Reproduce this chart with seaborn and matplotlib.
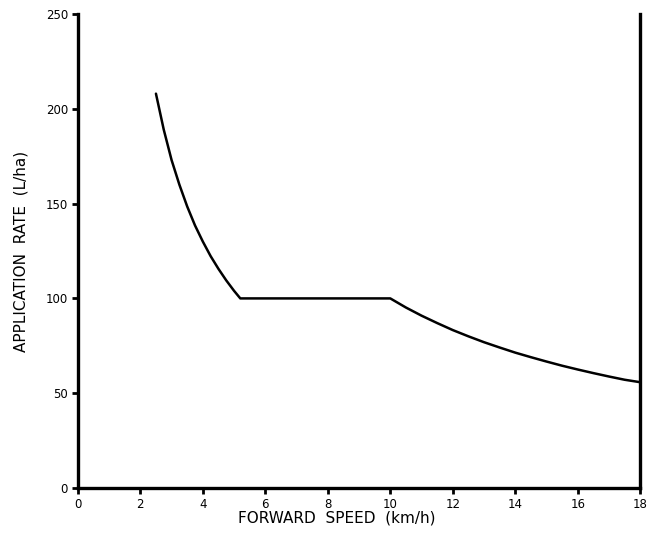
import matplotlib
matplotlib.use("Agg")
import matplotlib.pyplot as plt
import seaborn as sns
import pandas as pd

# Data
speed_low = [2.5, 2.75, 3.0, 3.25, 3.5, 3.75, 4.0, 4.25, 4.5, 4.75, 5.0, 5.2]
rate_low = [208, 189, 173, 160, 148.5, 138.5, 130, 122.3, 115.6, 109.5, 104, 100]
speed_high = [10.0, 10.5, 11.0, 11.5, 12.0, 12.5, 13.0, 13.5, 14.0, 14.5,
              15.0, 15.5, 16.0, 16.5, 17.0, 17.5, 18.0]
rate_high = [100, 95.2, 90.9, 87, 83.3, 80, 76.9, 74.1, 71.4, 69,
             66.7, 64.5, 62.5, 60.6, 58.8, 57.1, 55.8]
x_ticks = [0, 2, 4, 6, 8, 10, 12, 14, 16, 18]
y_ticks = [0, 50, 100, 150, 200, 250]

df = pd.DataFrame({"speed": speed_low + speed_high, "rate": rate_low + rate_high})

sns.set_style("ticks")
plt.rcParams['font.family'] = ['DejaVu Sans']
plt.rcParams['text.color'] = 'black'
plt.rcParams['axes.labelcolor'] = 'black'
plt.rcParams['xtick.color'] = 'black'
plt.rcParams['ytick.color'] = 'black'

fig = plt.figure(figsize=(6.54, 5.39), dpi=100)
ax = fig.add_axes([0.119, 0.0946, 0.860, 0.8794])
sns.lineplot(data=df, x="speed", y="rate", ax=ax, color="black", linewidth=1.8, sort=False)

ax.set_xlim(0, 18)
ax.set_ylim(0, 250)
ax.set_xticks(x_ticks)
ax.set_yticks(y_ticks)
ax.set_xticklabels([str(t) for t in x_ticks], fontsize=8.5)
ax.set_yticklabels([str(t) for t in y_ticks], fontsize=8.5)
ax.spines['top'].set_visible(False)
for s in ['left', 'bottom', 'right']:
    ax.spines[s].set_linewidth(2.4)
    ax.spines[s].set_color('black')
ax.tick_params(axis='both', direction='out', length=4, width=2, color='black', pad=3)
ax.set_xlabel("FORWARD  SPEED  (km/h)", fontsize=11)
ax.set_ylabel("APPLICATION  RATE  (L/ha)", fontsize=11)
ax.xaxis.set_label_coords(0.46, -0.048)
ax.yaxis.set_label_coords(-0.088, 0.5)
for lab in [ax.xaxis.label, ax.yaxis.label]:
    lab.set_fontstretch('expanded')

fig.savefig("out.png", dpi=100, facecolor="white")
